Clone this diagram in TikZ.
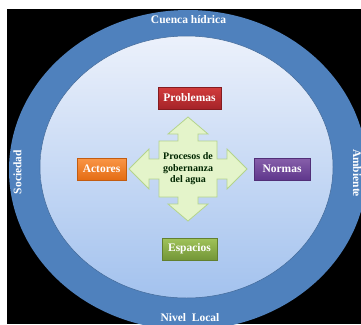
\documentclass[tikz,border=0pt]{standalone}
\usepackage{fontspec}
\setmainfont{Liberation Serif}
\definecolor{outerblue}{RGB}{79,129,189}
\definecolor{innertop}{RGB}{236,241,251}
\definecolor{innerbot}{RGB}{163,194,238}
\definecolor{crossfill}{RGB}{228,244,202}
\definecolor{crossline}{RGB}{180,212,140}
\definecolor{redtop}{RGB}{210,60,60}
\definecolor{redbot}{RGB}{165,35,40}
\definecolor{orgtop}{RGB}{250,150,70}
\definecolor{orgbot}{RGB}{228,108,20}
\definecolor{purtop}{RGB}{135,95,170}
\definecolor{purbot}{RGB}{95,55,140}
\definecolor{grntop}{RGB}{160,195,90}
\definecolor{grnbot}{RGB}{115,150,55}
\tikzset{
  catbox/.style={rectangle, minimum height=22pt, inner sep=0pt, text=white,
    font=\fontsize{11.5}{12}\selectfont\bfseries},
  ringlabel/.style={text=white, inner sep=0pt, font=\fontsize{11.5}{12}\selectfont\bfseries},
}
\begin{document}
\begin{tikzpicture}[x=1pt,y=-1pt]
\useasboundingbox (0,0) rectangle (361,324);
\fill[white] (0,0) rectangle (361,324);
\fill[black] (7,9) rectangle (361,324);
\begin{scope}
\clip (7,9) rectangle (361,324);
\fill[outerblue] (188,170) ellipse [x radius=179pt, y radius=160pt];
\shade[top color=innertop, bottom color=innerbot] (186.5,167) ellipse [x radius=146.5pt, y radius=131pt];
\draw[outerblue!80!black, line width=0.5pt] (186.5,167) ellipse [x radius=146.5pt, y radius=131pt];
\end{scope}
% cross
\begin{scope}[shift={(188,169)}]
\draw[fill=crossfill, draw=crossline, line width=0.8pt, line join=miter]
  (0,-52) -- (20,-35) -- (10,-35) -- (10,-28) -- (29,-28) -- (29,-10) -- (39,-10) -- (39,-20)
  -- (59,0) -- (39,20) -- (39,10) -- (29,10) -- (29,28) -- (10,28) -- (10,35) -- (20,35)
  -- (0,52) -- (-20,35) -- (-10,35) -- (-10,28) -- (-29,28) -- (-29,10) -- (-39,10) -- (-39,20)
  -- (-59,0) -- (-39,-20) -- (-39,-10) -- (-29,-10) -- (-29,-28) -- (-10,-28) -- (-10,-35)
  -- (-20,-35) -- cycle;
\end{scope}
\node[align=center, inner sep=0pt, text=black!85!green,
  font=\fontsize{10}{11.5}\selectfont\bfseries] (center) at (188,169)
  {Procesos de\\gobernanza\\del agua};
% boxes
\node[catbox, minimum width=63pt, top color=redtop, bottom color=redbot, draw=redbot!80!black, line width=0.4pt] (prob) at (189.5,98) {Problemas};
\node[catbox, minimum width=49pt, top color=orgtop, bottom color=orgbot, draw=orgbot!85!black, line width=0.4pt] (act) at (101.5,169) {Actores};
\node[catbox, minimum width=56pt, top color=purtop, bottom color=purbot, draw=purbot!85!black, line width=0.4pt] (norm) at (282,169) {Normas};
\node[catbox, minimum width=55pt, top color=grntop, bottom color=grnbot, draw=grnbot!85!black, line width=0.4pt] (esp) at (189.5,249) {Espacios};
% ring labels
\node[ringlabel] (cuenca) at (188.5,19.5) {Cuenca hídrica};
\node[ringlabel] (nivel) at (190,318) {Nivel\ \ Local};
\node[ringlabel, rotate=90] (soc) at (17.5,172) {Sociedad};
\node[ringlabel, rotate=-90] (amb) at (357,173) {Ambiente};
\end{tikzpicture}
\end{document}
